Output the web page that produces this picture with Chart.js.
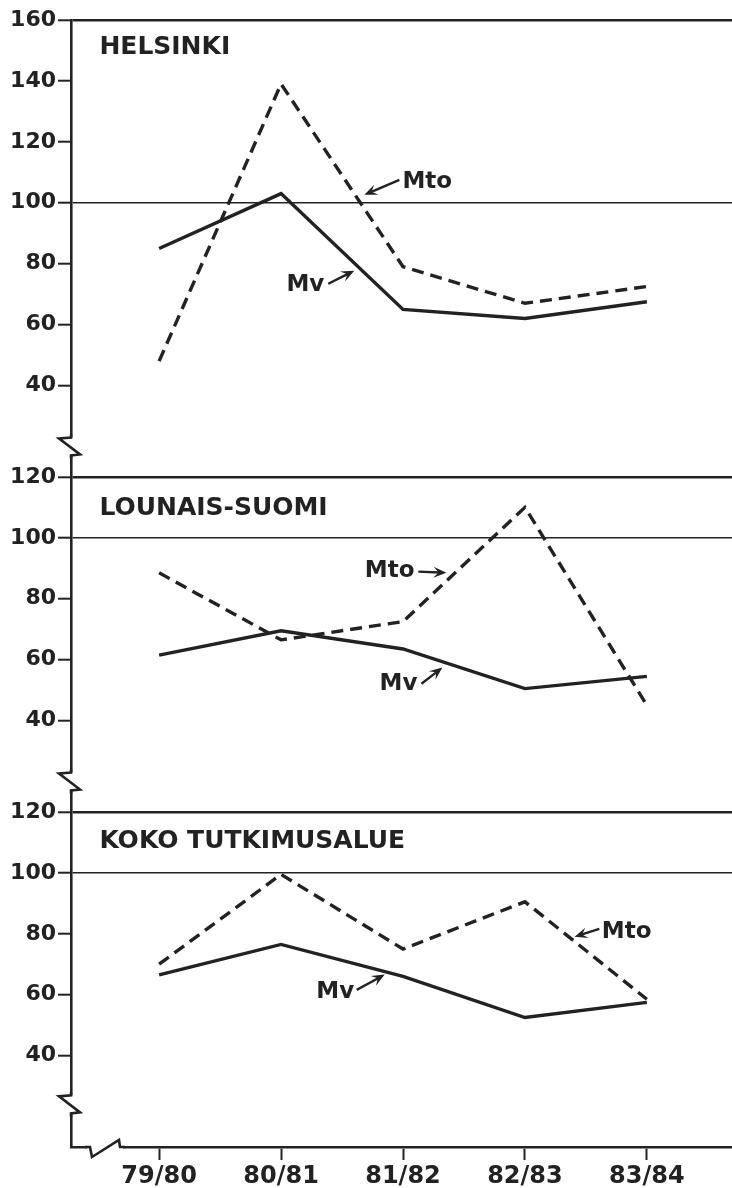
<!DOCTYPE html>
<html>
<head>
<meta charset="utf-8">
<script src="https://cdn.jsdelivr.net/npm/chart.js@4.4.1/dist/chart.umd.min.js"></script>
<style>
  html, body { margin: 0; padding: 0; background: #fff; }
  #wrap { width: 732px; height: 1188px; }
</style>
</head>
<body>
<div id="wrap"><canvas id="chart" width="732" height="1188"></canvas></div>
<script>
// seasons on the x axis
const seasons = ["79/80", "80/81", "81/82", "82/83", "83/84"];

// index values
const helsinkiMv  = [85, 103, 65, 62, 67.5];
const helsinkiMto = [48, 139, 79, 67, 72.5];
const lounaisMv   = [61.5, 69.5, 63.5, 50.5, 54.5];
const lounaisMto  = [88.5, 66.5, 72.5, 110, 45];
const kokoMv      = [66.5, 76.5, 66, 52.5, 57.5];
const kokoMto     = [70, 99.5, 75, 90.5, 58.5];

const helsinkiTicks = [40, 60, 80, 100, 120, 140, 160];
const panelTicks    = [40, 60, 80, 100, 120];

const panelNames  = ["HELSINKI", "LOUNAIS-SUOMI", "KOKO TUTKIMUSALUE"];
const seriesNames = ["Mv", "Mto"];

const ink = '#222';
const font = 'DejaVu Sans';

function points(values) {
    return values.map((v, i) => ({ x: i, y: v }));
}

function series(values, axis, dashed) {
    return {
        data: points(values),
        yAxisID: axis,
        borderColor: ink,
        borderWidth: 3.4,
        borderDash: dashed ? [12, 7] : [],
        borderJoinStyle: 'miter',
        pointRadius: 0,
        tension: 0,
        fill: false
    };
}

function panelAxis(min, max, ticks, weight, topLine) {
    return {
        type: 'linear',
        position: 'left',
        stack: 'panels',
        stackWeight: max - min,
        weight: weight,
        min: min,
        max: max,
        afterBuildTicks: s => { s.ticks = ticks.map(v => ({ value: v })); },
        afterFit: s => { s.width = 71; },
        border: { display: true, color: ink, width: 2.6 },
        grid: {
            drawTicks: true,
            tickLength: 13,
            tickWidth: 2,
            tickColor: ink,
            color: c => (c.tick && (c.tick.value === 100 || c.tick.value === topLine)) ? ink : 'rgba(0,0,0,0)',
            lineWidth: c => (c.tick && c.tick.value === topLine) ? 2.6 : 1.4
        },
        ticks: { color: ink, padding: 2, font: { family: font, size: 22, weight: 'bold' } }
    };
}

// panel titles and the Mv / Mto pointers, placed in data units of each panel
const titles = [
    { axis: 'yHel', x: -0.49, y: 151.8 },
    { axis: 'yLou', x: -0.49, y: 110.4 },
    { axis: 'yKoko', x: -0.49, y: 111.1 }
];
const pointers = [
    { axis: 'yHel', name: 1, align: 'left',  tx: 1.995, ty: 107.5, from: [1.97, 107.5], to: [1.683, 102.6] },
    { axis: 'yHel', name: 0, align: 'right', tx: 1.355, ty: 73.8,  from: [1.387, 73.4], to: [1.60, 77.7] },
    { axis: 'yLou', name: 1, align: 'right', tx: 2.094, ty: 89.8,  from: [2.126, 88.9], to: [2.356, 88.5] },
    { axis: 'yLou', name: 0, align: 'right', tx: 2.118, ty: 52.8,  from: [2.151, 52.1], to: [2.323, 57.4] },
    { axis: 'yKoko', name: 1, align: 'left', tx: 3.63,  ty: 81.5,  from: [3.61, 81.6],  to: [3.407, 79.0] },
    { axis: 'yKoko', name: 0, align: 'right', tx: 1.60, ty: 61.6,  from: [1.62, 61.6],  to: [1.85, 66.6] }
];

function arrow(ctx, x1, y1, x2, y2) {
    const a = Math.atan2(y2 - y1, x2 - x1);
    const len = 13, half = 5.5;
    ctx.beginPath();
    ctx.moveTo(x1, y1);
    ctx.lineTo(x2 - Math.cos(a) * 7, y2 - Math.sin(a) * 7);
    ctx.lineWidth = 2.4;
    ctx.stroke();
    ctx.beginPath();
    ctx.moveTo(x2, y2);
    ctx.lineTo(x2 - Math.cos(a) * len - Math.sin(a) * half, y2 - Math.sin(a) * len + Math.cos(a) * half);
    ctx.lineTo(x2 - Math.cos(a) * len * 0.6, y2 - Math.sin(a) * len * 0.6);
    ctx.lineTo(x2 - Math.cos(a) * len + Math.sin(a) * half, y2 - Math.sin(a) * len - Math.cos(a) * half);
    ctx.closePath();
    ctx.fill();
}

function yBreak(ctx, ax, yc) {
    ctx.fillStyle = '#fff';
    ctx.fillRect(ax - 14, yc - 9, 28, 18);
    ctx.fillStyle = ink;
    ctx.beginPath();
    ctx.moveTo(ax, yc - 12);
    ctx.lineTo(ax, yc - 9);
    ctx.lineTo(ax - 12, yc - 8);
    ctx.lineTo(ax + 9, yc + 8);
    ctx.lineTo(ax, yc + 9);
    ctx.lineTo(ax, yc + 12);
    ctx.stroke();
}

const decorations = {
    id: 'decorations',
    afterDraw(chart) {
        const ctx = chart.ctx;
        const x = chart.scales.x;
        const hel = chart.scales.yHel, lou = chart.scales.yLou, koko = chart.scales.yKoko;
        const ax = hel.right;
        ctx.save();
        ctx.strokeStyle = ink;
        ctx.fillStyle = ink;
        ctx.lineWidth = 2.6;
        ctx.lineJoin = 'miter';

        // axis breaks
        yBreak(ctx, ax, (hel.bottom + lou.top) / 2);
        yBreak(ctx, ax, (lou.bottom + koko.top) / 2);
        yBreak(ctx, ax, koko.getPixelForValue(24));

        const by = x.top;
        ctx.fillStyle = '#fff';
        ctx.fillRect(ax + 16, by - 9, 36, 18);
        ctx.fillStyle = ink;
        ctx.beginPath();
        ctx.moveTo(ax + 14, by);
        ctx.lineTo(ax + 19, by);
        ctx.lineTo(ax + 21, by + 10);
        ctx.lineTo(ax + 48, by - 7);
        ctx.lineTo(ax + 49, by);
        ctx.lineTo(ax + 54, by);
        ctx.stroke();

        // panel titles
        ctx.font = 'bold 25px "' + font + '"';
        ctx.textAlign = 'left';
        ctx.textBaseline = 'alphabetic';
        titles.forEach((t, i) => {
            const s = chart.scales[t.axis];
            ctx.fillText(panelNames[i], x.getPixelForValue(t.x), s.getPixelForValue(t.y) + 9);
        });

        // pointers
        ctx.font = 'bold 23px "' + font + '"';
        pointers.forEach(p => {
            const s = chart.scales[p.axis];
            ctx.textAlign = p.align;
            ctx.fillText(seriesNames[p.name], x.getPixelForValue(p.tx), s.getPixelForValue(p.ty) + 8.4);
            arrow(ctx,
                x.getPixelForValue(p.from[0]), s.getPixelForValue(p.from[1]),
                x.getPixelForValue(p.to[0]), s.getPixelForValue(p.to[1]));
        });
        ctx.restore();
    }
};

new Chart(document.getElementById('chart'), {
    type: 'line',
    data: {
        datasets: [
            series(helsinkiMv, 'yHel', false),
            series(helsinkiMto, 'yHel', true),
            series(lounaisMv, 'yLou', false),
            series(lounaisMto, 'yLou', true),
            series(kokoMv, 'yKoko', false),
            series(kokoMto, 'yKoko', true)
        ]
    },
    options: {
        responsive: false,
        animation: false,
        layout: { padding: { top: 20, left: 0, right: 0, bottom: 0 } },
        plugins: { legend: { display: false }, tooltip: { enabled: false } },
        scales: {
            x: {
                type: 'linear',
                min: -0.7227,
                max: 4.698,
                afterBuildTicks: s => { s.ticks = seasons.map((_, i) => ({ value: i })); },
                afterFit: s => { s.height = 41; },
                border: { display: true, color: ink, width: 2.6 },
                grid: { drawOnChartArea: false, drawTicks: true, tickLength: 13, tickWidth: 2, tickColor: ink },
                ticks: {
                    color: ink, padding: 2, maxRotation: 0, autoSkip: false,
                    callback: v => seasons[v],
                    font: { family: font, size: 24, weight: 'bold' }
                }
            },
            yKoko: panelAxis(10, 130, panelTicks, 1, 120),
            yLou: panelAxis(20, 130, panelTicks, 2, 120),
            yHel: panelAxis(20, 160, helsinkiTicks, 3, 160)
        }
    },
    plugins: [decorations]
});
</script>
</body>
</html>
